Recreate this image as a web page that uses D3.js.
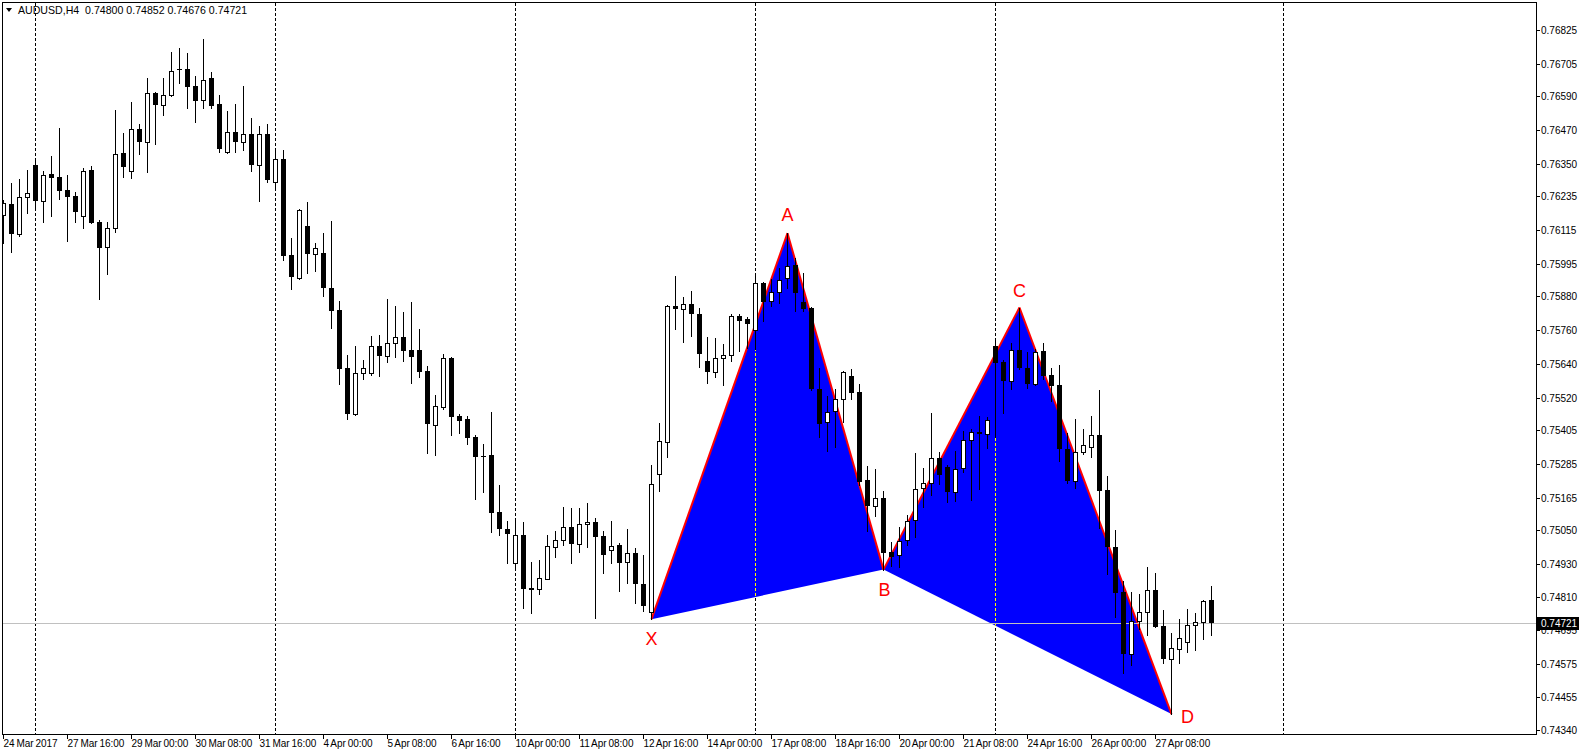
<!DOCTYPE html>
<html><head><meta charset="utf-8">
<script src="https://cdn.jsdelivr.net/npm/d3@7"></script>
<style>html,body{margin:0;padding:0;background:#fff;overflow:hidden} svg{display:block}</style>
</head><body>
<svg id="c" width="1579" height="755"></svg>
<script>
const titleText = "AUDUSD,H4  0.74800 0.74852 0.74676 0.74721";
const openP = [0.76168,0.76206,0.76100,0.76231,0.76346,0.76219,0.76314,0.76303,0.76257,0.76236,
0.76166,0.76328,0.76143,0.76054,0.76121,0.76388,0.76324,0.76474,0.76429,0.76601,
0.76560,0.76594,0.76687,0.76687,0.76627,0.76576,0.76655,0.76563,0.76391,0.76462,
0.76427,0.76458,0.76347,0.76456,0.76287,0.76366,0.76026,0.75946,0.76129,0.76029,
0.76032,0.75911,0.75831,0.75624,0.75460,0.75606,0.75608,0.75705,0.75669,0.75713,
0.75734,0.75688,0.75688,0.75614,0.75424,0.75487,0.75660,0.75454,0.75443,0.75380,
0.75312,0.75316,0.75113,0.75053,0.74931,0.75032,0.74843,0.74839,0.74876,0.74990,
0.75013,0.75059,0.74999,0.75070,0.75077,0.75028,0.74977,0.74996,0.74935,0.74968,
0.74857,0.74758,0.75247,0.75361,0.75845,0.75833,0.75851,0.75816,0.75649,0.75610,
0.75659,0.75670,0.75809,0.75799,0.75759,0.75926,0.75863,0.75894,0.75944,0.75990,
0.75858,0.75837,0.75549,0.75432,0.75471,0.75514,0.75596,0.75539,0.75227,0.75136,
0.75162,0.74970,0.74960,0.75013,0.75084,0.75198,0.75215,0.75304,0.75272,0.75186,
0.75269,0.75368,0.75397,0.75389,0.75705,0.75646,0.75578,0.75689,0.75626,0.75570,
0.75685,0.75602,0.75564,0.75336,0.75225,0.75325,0.75343,0.75387,0.75192,0.74990,
0.74830,0.74611,0.74727,0.74758,0.74835,0.74708,0.74590,0.74626,0.74651,0.74714,
0.74723,0.74800];
const highP = [0.76222,0.76281,0.76296,0.76328,0.76370,0.76325,0.76378,0.76477,0.76310,0.76251,
0.76334,0.76342,0.76151,0.76142,0.76541,0.76461,0.76570,0.76492,0.76656,0.76606,
0.76656,0.76747,0.76762,0.76745,0.76663,0.76794,0.76676,0.76595,0.76538,0.76563,
0.76627,0.76512,0.76484,0.76492,0.76399,0.76399,0.76086,0.76190,0.76213,0.76068,
0.76103,0.76147,0.75863,0.75670,0.75703,0.75653,0.75738,0.75742,0.75870,0.75845,
0.75824,0.75859,0.75763,0.75632,0.75529,0.75675,0.75664,0.75461,0.75454,0.75387,
0.75355,0.75469,0.75209,0.75081,0.75091,0.75078,0.74936,0.74943,0.75032,0.75046,
0.75131,0.75128,0.75128,0.75145,0.75091,0.75047,0.75081,0.75004,0.75053,0.74986,
0.74961,0.75280,0.75431,0.75849,0.75952,0.75876,0.75898,0.75837,0.75734,0.75730,
0.75710,0.75817,0.75817,0.75805,0.75955,0.75931,0.75940,0.75979,0.76104,0.76015,
0.75961,0.75843,0.75624,0.75525,0.75549,0.75614,0.75620,0.75568,0.75277,0.75266,
0.75188,0.75006,0.75061,0.75102,0.75323,0.75269,0.75464,0.75328,0.75280,0.75330,
0.75400,0.75407,0.75454,0.75450,0.75730,0.75653,0.75713,0.75840,0.75683,0.75692,
0.75715,0.75625,0.75636,0.75393,0.75443,0.75408,0.75454,0.75547,0.75241,0.75049,
0.74868,0.74830,0.74822,0.74919,0.74898,0.74765,0.74685,0.74733,0.74769,0.74756,
0.74801,0.74852];
const lowP = [0.76068,0.76036,0.76095,0.76174,0.76186,0.76142,0.76166,0.76224,0.76077,0.76142,
0.76121,0.76141,0.75869,0.75960,0.76107,0.76304,0.76301,0.76386,0.76322,0.76422,
0.76525,0.76590,0.76638,0.76547,0.76500,0.76547,0.76547,0.76393,0.76388,0.76393,
0.76399,0.76326,0.76219,0.76287,0.76269,0.76009,0.75906,0.75941,0.75963,0.75970,
0.75881,0.75768,0.75567,0.75444,0.75458,0.75586,0.75600,0.75597,0.75647,0.75665,
0.75651,0.75573,0.75594,0.75324,0.75317,0.75480,0.75388,0.75395,0.75356,0.75161,
0.75186,0.75041,0.75032,0.74933,0.74913,0.74773,0.74754,0.74823,0.74874,0.74955,
0.74996,0.74933,0.74972,0.74990,0.74736,0.74898,0.74933,0.74834,0.74860,0.74791,
0.74763,0.74733,0.75189,0.75310,0.75765,0.75718,0.75740,0.75627,0.75573,0.75594,
0.75566,0.75651,0.75686,0.75695,0.75691,0.75793,0.75846,0.75857,0.75910,0.75828,
0.75827,0.75547,0.75379,0.75331,0.75345,0.75434,0.75514,0.75209,0.75047,0.75100,
0.74909,0.74923,0.74919,0.74996,0.75026,0.75132,0.75174,0.75213,0.75150,0.75154,
0.75257,0.75156,0.75195,0.75342,0.75381,0.75466,0.75550,0.75621,0.75555,0.75563,
0.75586,0.75509,0.75294,0.75217,0.75198,0.75319,0.75310,0.75057,0.74893,0.74739,
0.74543,0.74570,0.74697,0.74675,0.74705,0.74576,0.74396,0.74578,0.74617,0.74623,
0.74663,0.74676];
const closeP = [0.76210,0.76100,0.76231,0.76245,0.76219,0.76310,0.76301,0.76255,0.76233,0.76180,
0.76325,0.76141,0.76052,0.76122,0.76385,0.76340,0.76473,0.76429,0.76601,0.76560,
0.76594,0.76680,0.76682,0.76624,0.76574,0.76647,0.76557,0.76403,0.76462,0.76429,
0.76458,0.76347,0.76455,0.76294,0.76366,0.76024,0.75949,0.76186,0.76029,0.76050,
0.75911,0.75828,0.75622,0.75460,0.75606,0.75624,0.75705,0.75669,0.75713,0.75734,
0.75686,0.75665,0.75612,0.75427,0.75489,0.75659,0.75452,0.75438,0.75377,0.75310,
0.75310,0.75111,0.75052,0.75036,0.75032,0.74841,0.74837,0.74879,0.74992,0.75014,
0.75059,0.75001,0.75070,0.75077,0.75026,0.74962,0.74992,0.74933,0.74968,0.74857,
0.74781,0.75212,0.75366,0.75845,0.75833,0.75851,0.75818,0.75676,0.75610,0.75659,
0.75670,0.75809,0.75793,0.75782,0.75926,0.75860,0.75895,0.75939,0.75986,0.75892,
0.75834,0.75549,0.75427,0.75470,0.75514,0.75610,0.75537,0.75221,0.75136,0.75162,
0.74969,0.74953,0.75009,0.75080,0.75194,0.75215,0.75304,0.75246,0.75186,0.75267,
0.75368,0.75397,0.75389,0.75439,0.75644,0.75578,0.75688,0.75626,0.75570,0.75681,
0.75597,0.75562,0.75336,0.75225,0.75325,0.75351,0.75387,0.75189,0.74988,0.74827,
0.74611,0.74726,0.74758,0.74835,0.74706,0.74590,0.74629,0.74665,0.74714,0.74723,
0.74797,0.74721];
const priceTicks = ["0.76825","0.76705","0.76590","0.76470","0.76350","0.76235","0.76115","0.75995","0.75880","0.75760","0.75640","0.75520","0.75405","0.75285","0.75165","0.75050","0.74930","0.74810","0.74695","0.74575","0.74455","0.74340"];
const dateTickIndex = [0,8,16,24,32,40,48,56,64,72,80,88,96,104,112,120,128,136,144];
const dateTickLabels = ["24 Mar 2017","27 Mar 16:00","29 Mar 00:00","30 Mar 08:00","31 Mar 16:00","4 Apr 00:00","5 Apr 08:00","6 Apr 16:00","10 Apr 00:00","11 Apr 08:00","12 Apr 16:00","14 Apr 00:00","17 Apr 08:00","18 Apr 16:00","20 Apr 00:00","21 Apr 08:00","24 Apr 16:00","26 Apr 00:00","27 Apr 08:00"];
const separatorIndex = [4,34,64,94,124,160];
const patternNames = ["X","A","B","C","D"];
const patternIndex = [81,98,110,127,146];
const patternPrice = [0.74733,0.76104,0.74909,0.75840,0.74396];
const lastPrice = 0.74721;

const W = 1579, H = 755;
const plotL = 2, plotT = 2, plotR = 1536, plotB = 734;
const svg = d3.select("#c");
const font = "'Liberation Sans', Arial, sans-serif";

const x = d3.scaleLinear().domain([0, 160]).range([3, 1283]);
const y = d3.scaleLinear().domain([0.74340, 0.76825]).range([729.8, 30.2]);
const cx = i => Math.round(x(i)) + 0.5;
const py = p => Math.round(y(p));

svg.append("rect").attr("width", W).attr("height", H).attr("fill", "#fff");

svg.append("defs").append("clipPath").attr("id", "clip")
  .append("rect").attr("x", plotL + 1).attr("y", plotT + 1).attr("width", plotR - plotL - 1).attr("height", plotB - plotT - 1);
const plot = svg.append("g").attr("clip-path", "url(#clip)");
plot.append("rect").attr("x", 0).attr("y", 0).attr("width", W).attr("height", H).attr("fill", "#fff");

// pattern triangles
const pts = patternIndex.map((k, i) => [cx(k), y(patternPrice[i])]);
[[0,1,2],[2,3,4]].forEach(t => {
  plot.append("polygon").attr("points", t.map(j => pts[j].join(",")).join(" ")).attr("fill", "#0000ff");
});
[[0,1],[1,2],[2,3],[3,4]].forEach(([a,b]) => {
  plot.append("line").attr("x1", pts[a][0]).attr("y1", pts[a][1]).attr("x2", pts[b][0]).attr("y2", pts[b][1])
    .attr("stroke", "#ff0000").attr("stroke-width", 2);
});

// period separators (inverted drawing)
separatorIndex.forEach(k => {
  plot.append("line").attr("x1", cx(k)).attr("x2", cx(k)).attr("y1", plotT + 1).attr("y2", plotB)
    .attr("stroke", "#fff").attr("stroke-dasharray", "3,2").attr("shape-rendering", "crispEdges")
    .style("mix-blend-mode", "difference");
});

// last price line
plot.append("line").attr("x1", plotL).attr("x2", plotR).attr("y1", py(lastPrice) + 0.5).attr("y2", py(lastPrice) + 0.5)
  .attr("stroke", "#c0c0c0").attr("shape-rendering", "crispEdges");

// candles
const candles = plot.append("g").attr("shape-rendering", "crispEdges");
openP.forEach((o, i) => {
  const c = closeP[i], h = highP[i], l = lowP[i];
  const xc = cx(i);
  candles.append("line").attr("x1", xc).attr("x2", xc).attr("y1", py(h)).attr("y2", py(l) + 1).attr("stroke", "#000");
  const top = py(Math.max(o, c)), bot = py(Math.min(o, c));
  const hgt = Math.max(1, bot - top);
  if (c > o && hgt >= 2) {
    candles.append("rect").attr("x", xc - 2).attr("y", top + 0.5).attr("width", 4).attr("height", hgt)
      .attr("fill", "#fff").attr("stroke", "#000");
  } else {
    candles.append("rect").attr("x", xc - 2.5).attr("y", top).attr("width", 5).attr("height", Math.max(1, hgt + (c > o ? 1 : 0)))
      .attr("fill", "#000");
  }
});

// pattern labels
const labelOff = {X:[0,26], A:[0,-12], B:[1,26.5], C:[0,-11], D:[16,9]};
patternNames.forEach((n, i) => {
  svg.append("text").attr("x", pts[i][0] + labelOff[n][0]).attr("y", pts[i][1] + labelOff[n][1])
    .attr("text-anchor", "middle").attr("font-family", font).attr("font-size", 18).attr("fill", "#ff0000").text(n);
});

// frame
const fr = svg.append("g").attr("shape-rendering", "crispEdges").attr("stroke", "#000").attr("fill", "none");
fr.append("line").attr("x1", plotL + 0.5).attr("x2", plotL + 0.5).attr("y1", plotT).attr("y2", plotB + 1);
fr.append("line").attr("x1", plotL).attr("x2", plotR + 1).attr("y1", plotT + 0.5).attr("y2", plotT + 0.5);
fr.append("line").attr("x1", plotR + 0.5).attr("x2", plotR + 0.5).attr("y1", plotT).attr("y2", plotB + 1);
fr.append("line").attr("x1", plotL).attr("x2", plotR + 1).attr("y1", plotB + 0.5).attr("y2", plotB + 0.5);

// price axis
const ya = svg.append("g");
priceTicks.forEach(t => {
  const yy = py(+t);
  ya.append("line").attr("x1", plotR + 1).attr("x2", plotR + 4).attr("y1", yy + 0.5).attr("y2", yy + 0.5)
    .attr("stroke", "#000").attr("shape-rendering", "crispEdges");
  ya.append("text").attr("x", plotR + 5).attr("y", yy + 4).attr("font-family", font).attr("font-size", 10).attr("fill", "#000").text(t);
});
const lpY = py(lastPrice);
ya.append("rect").attr("x", plotR + 1).attr("y", lpY - 6).attr("width", W - plotR - 1).attr("height", 13).attr("fill", "#000");
ya.append("text").attr("x", plotR + 5).attr("y", lpY + 4).attr("font-family", font).attr("font-size", 10).attr("fill", "#fff").text(lastPrice.toFixed(5));

// time axis
const xa = svg.append("g");
dateTickIndex.forEach((k, i) => {
  const xx = cx(k);
  xa.append("line").attr("x1", xx).attr("x2", xx).attr("y1", plotB + 1).attr("y2", plotB + 5)
    .attr("stroke", "#000").attr("shape-rendering", "crispEdges");
  xa.append("text").attr("x", xx).attr("y", 747).attr("font-family", font).attr("font-size", 10)
    .attr("word-spacing", "-1px").attr("fill", "#000").text(dateTickLabels[i]);
});

// title
svg.append("path").attr("d", "M6,8 L12,8 L9,12 Z").attr("fill", "#000");
svg.append("text").attr("x", 18).attr("y", 14).attr("font-family", font).attr("font-size", 10.6)
  .attr("fill", "#000").style("white-space", "pre").text(titleText);
</script>
</body></html>
